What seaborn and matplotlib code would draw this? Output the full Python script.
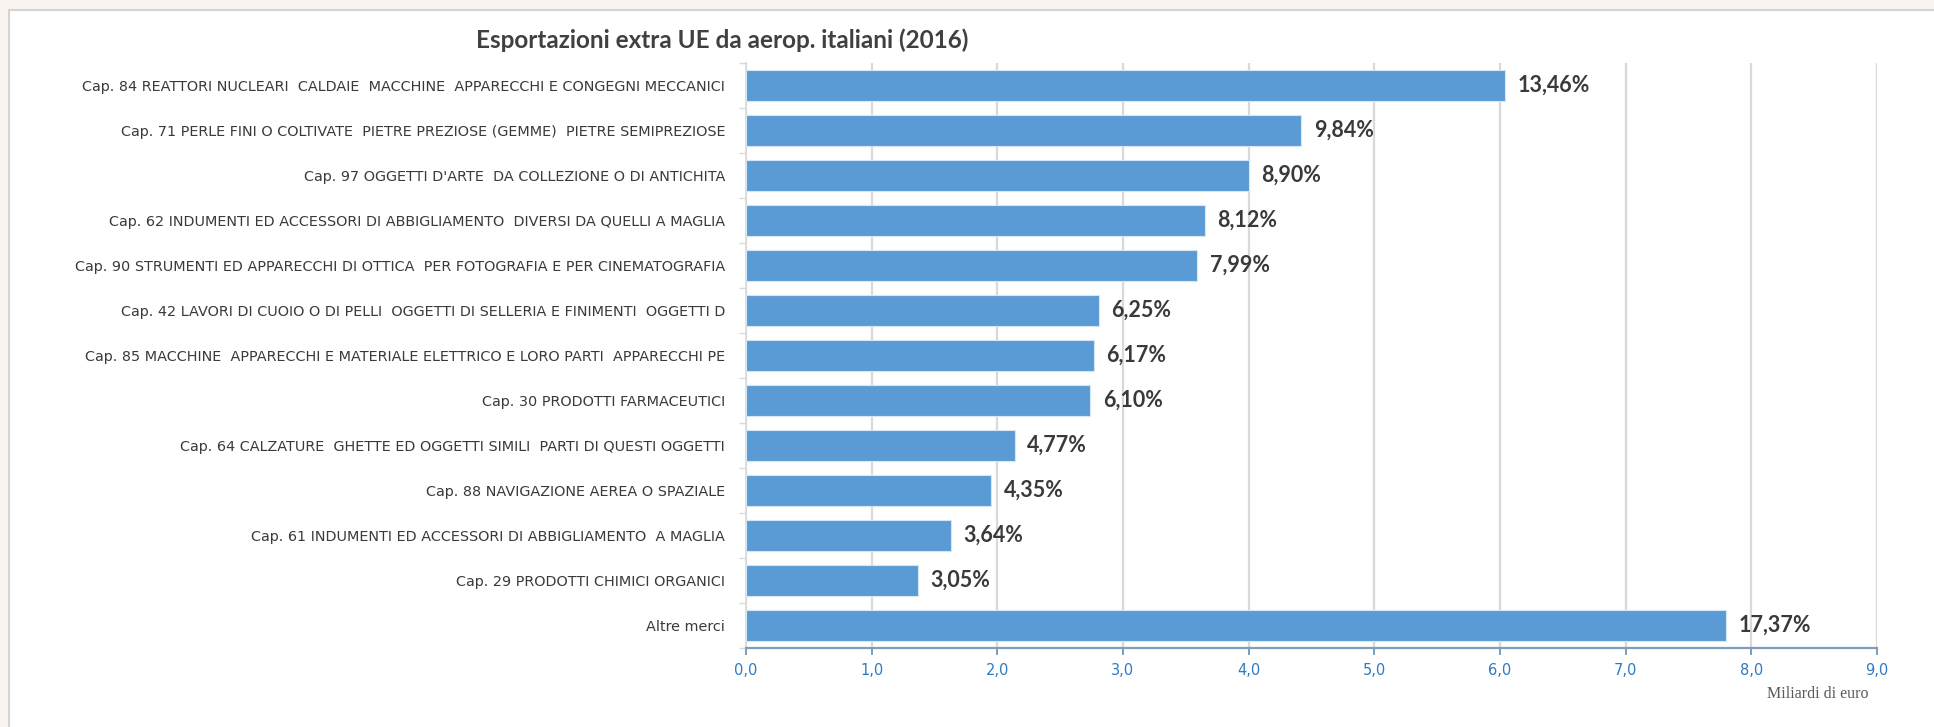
import matplotlib.pyplot as plt
import matplotlib.font_manager as fm
import seaborn as sns
import pandas as pd
from matplotlib.patches import Rectangle
from matplotlib.ticker import FixedLocator, FuncFormatter

CATEGORIES = [
    "Cap. 84 REATTORI NUCLEARI  CALDAIE  MACCHINE  APPARECCHI E CONGEGNI MECCANICI",
    "Cap. 71 PERLE FINI O COLTIVATE  PIETRE PREZIOSE (GEMME)  PIETRE SEMIPREZIOSE",
    "Cap. 97 OGGETTI D'ARTE  DA COLLEZIONE O DI ANTICHITA",
    "Cap. 62 INDUMENTI ED ACCESSORI DI ABBIGLIAMENTO  DIVERSI DA QUELLI A MAGLIA",
    "Cap. 90 STRUMENTI ED APPARECCHI DI OTTICA  PER FOTOGRAFIA E PER CINEMATOGRAFIA",
    "Cap. 42 LAVORI DI CUOIO O DI PELLI  OGGETTI DI SELLERIA E FINIMENTI  OGGETTI D",
    "Cap. 85 MACCHINE  APPARECCHI E MATERIALE ELETTRICO E LORO PARTI  APPARECCHI PE",
    "Cap. 30 PRODOTTI FARMACEUTICI",
    "Cap. 64 CALZATURE  GHETTE ED OGGETTI SIMILI  PARTI DI QUESTI OGGETTI",
    "Cap. 88 NAVIGAZIONE AEREA O SPAZIALE",
    "Cap. 61 INDUMENTI ED ACCESSORI DI ABBIGLIAMENTO  A MAGLIA",
    "Cap. 29 PRODOTTI CHIMICI ORGANICI",
    "Altre merci",
]
VALUES = [6.04, 4.42, 4.00, 3.65, 3.59, 2.81, 2.77, 2.74, 2.14, 1.95, 1.63, 1.37, 7.80]  # miliardi di euro
SHARES = ["13,46%", "9,84%", "8,90%", "8,12%", "7,99%", "6,25%", "6,17%", "6,10%",
          "4,77%", "4,35%", "3,64%", "3,05%", "17,37%"]
X_TICKS = [0, 1, 2, 3, 4, 5, 6, 7, 8, 9]

df = pd.DataFrame({"categoria": CATEGORIES, "valore": VALUES})

sns.set_theme(style="white")
names = {f.name for f in fm.fontManager.ttflist}
NARROW = "Liberation Sans Narrow" if "Liberation Sans Narrow" in names else "DejaVu Sans"
plt.rcParams["font.family"] = [NARROW, "DejaVu Sans"]

W, H = 1934, 727
fig = plt.figure(figsize=(W / 100, H / 100), dpi=100, facecolor="#FAF4F0")
fig.patches.append(Rectangle((9 / W, -0.01), 1.0, 1 - 10 / H + 0.01, transform=fig.transFigure,
                             facecolor="white", edgecolor="#D4D4D4", lw=1.5, zorder=-1))
ax = fig.add_axes([746 / W, 1 - 648 / H, (1877 - 746) / W, (648 - 63) / H])
ax.set_facecolor("none")

sns.barplot(data=df, x="valore", y="categoria", orient="h", color="#5B9BD5", saturation=1,
            width=0.69, edgecolor="#D6E6F5", linewidth=0.8, ax=ax, zorder=3)

ax.bar_label(ax.containers[0], labels=SHARES, padding=9, fontsize=15.5, fontweight="bold",
             color="#3A3A3A", family=["Lato", "DejaVu Sans"])

ax.set_xlim(0, 9)
ax.set_ylim(len(CATEGORIES) - 0.5, -0.5)
ax.xaxis.set_major_locator(FixedLocator(X_TICKS))
ax.xaxis.set_major_formatter(FuncFormatter(lambda v, p: f"{v:.1f}".replace(".", ",")))
ax.grid(axis="x", color="#D9D9D9", lw=1.6, zorder=0)
ax.grid(axis="y", visible=False)

for s in ["top", "right"]:
    ax.spines[s].set_visible(False)
ax.spines["bottom"].set_color("#7F9DB9")
ax.spines["bottom"].set_linewidth(1.6)
ax.spines["left"].set_color("#D9D9D9")
ax.spines["left"].set_linewidth(1.2)

ax.tick_params(axis="x", bottom=True, length=5, width=1.4, color="#7F9DB9", direction="out",
               labelsize=10.5, labelcolor="#2E7BC4", pad=6)
ax.tick_params(axis="y", left=False, labelsize=10.4, labelcolor="#3A3A3A", pad=9)
ax.yaxis.set_minor_locator(FixedLocator([i - 0.5 for i in range(len(CATEGORIES) + 1)]))
ax.tick_params(axis="y", which="minor", left=True, length=5, width=1, color="#D9D9D9")
ax.set_xlabel(None)
ax.set_ylabel(None)

fig.text(722 / W, 1 - 40 / H, "Esportazioni extra UE da aerop. italiani (2016)", ha="center", va="center",
         fontsize=17.5, fontweight="bold", color="#404040", family=["Lato", "DejaVu Sans"])
fig.text(1818 / W, 1 - 694 / H, "Miliardi di euro", ha="center", va="center", fontsize=11.5,
         color="#595959", family=["Liberation Serif", "DejaVu Serif"])

fig.savefig("out.png", dpi=100, facecolor=fig.get_facecolor())
